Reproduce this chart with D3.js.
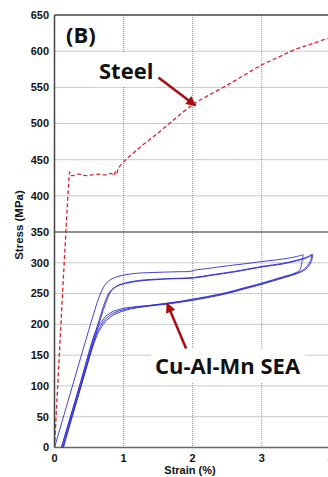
<!DOCTYPE html>
<html>
<head>
<meta charset="utf-8">
<script src="https://cdn.jsdelivr.net/npm/d3@7"></script>
<style>
  html, body { margin: 0; padding: 0; background: #fff; overflow: hidden; }
  svg { display: block; }
  .tick-label { font-family: "Liberation Sans", Arial, sans-serif; font-weight: bold; font-size: 11px; fill: #111; }
  .axis-title { font-family: "Liberation Sans", Arial, sans-serif; font-weight: bold; fill: #111; }
  .note { font-family: "Open Sans", "Noto Sans", sans-serif; font-weight: bold; font-size: 22px; fill: #111; }
</style>
</head>
<body>
<div id="chart"></div>
<script>
// data (strain in %, stress in MPa)
var xTicks = [0, 1, 2, 3, 4];
var yTicks = [0, 50, 100, 150, 200, 250, 300, 350, 400, 450, 500, 550, 600, 650];

var steel = [[0,0],[0.215,430],[0.22,433],[0.24,428],[0.35,430],[0.45,428],[0.55,429],[0.65,430],
  [0.75,429],[0.82,431],[0.86,428],[0.88,433],[0.9,430],[0.92,437],[1.0,447],[1.25,468],[1.5,487],
  [1.75,507],[2.0,526],[2.25,540],[2.5,553],[2.75,567],[3.0,581],[3.25,592],[3.5,603],[3.75,611],[4.0,619]];

var load1 = [[0,0],[0.2,77],[0.4,154],[0.55,211],[0.62,236],[0.68,254],[0.75,267],[0.85,275],[1.0,280],
  [1.2,283],[1.5,284.5],[1.8,285.5],[1.97,286],[2.03,288],[2.2,290.5],[2.5,295],[2.8,299],[3.0,302],
  [3.3,306],[3.5,310],[3.6,313]];
var unload1 = [[3.6,313],[3.58,300],[3.55,288],[3.45,282],[3.3,277],[3.0,267],[2.7,258],[2.5,252],
  [2.2,245],[2.0,241],[1.8,237],[1.6,234],[1.4,231],[1.2,229],[1.0,226],[0.85,221],[0.75,214],
  [0.68,204],[0.6,190],[0.35,95],[0.1,0]];
var load2 = [[0.1,0],[0.35,95],[0.6,190],[0.66,212],[0.72,233],[0.8,253],[0.9,262],[1.0,266.5],[1.2,271],
  [1.4,273],[1.7,274.5],[2.0,276],[2.3,281],[2.6,286],[3.0,294],[3.3,299],[3.5,304],[3.65,309],[3.73,314]];
var unload2 = [[3.73,314],[3.7,302],[3.62,290],[3.5,283],[3.3,276],[3.0,266],[2.7,257],[2.5,251],
  [2.2,244],[2.0,240],[1.8,236.5],[1.6,233.5],[1.4,231],[1.2,228],[1.0,224],[0.85,218],[0.75,210],
  [0.67,198],[0.6,182],[0.35,88],[0.12,0]];
var load3 = [[0.12,0],[0.36,92],[0.62,192],[0.68,214],[0.74,234],[0.82,254],[0.92,263],[1.0,265.5],
  [1.2,270],[1.4,272],[1.7,274],[2.0,275],[2.3,280],[2.6,285],[3.0,293],[3.3,298],[3.5,303],[3.65,308],[3.74,313]];
var unload3 = [[3.74,313],[3.71,300],[3.63,289],[3.5,282],[3.3,275],[3.0,265],[2.7,256],[2.5,250],
  [2.2,243],[2.0,239],[1.8,235.5],[1.6,232.5],[1.4,230],[1.2,227],[1.0,222],[0.85,215],[0.75,206],
  [0.67,194],[0.6,178],[0.35,86],[0.13,0]];
var seaCurves = [load1, unload1, load2, unload2, load3, unload3];

var steelPoint = [2.04, 525];
var seaPoint = [1.63, 234];

//Settings
var width = 328;
var height = 477;
var red = "#d8222c";
var blue = "#2b2bd2";
var darkRed = "#a80d12";

var svg = d3.select("#chart").append("svg")
  .attr("width", width)
  .attr("height", height);

var defs = svg.append("defs");
defs.append("clipPath").attr("id", "plotClip")
  .append("rect").attr("x", 55).attr("y", 14).attr("width", width - 55).attr("height", 435);
defs.append("marker")
  .attr("id", "head")
  .attr("viewBox", "0 0 10 10")
  .attr("refX", 9).attr("refY", 5)
  .attr("markerWidth", 4.2).attr("markerHeight", 4)
  .attr("markerUnits", "strokeWidth")
  .attr("orient", "auto")
  .append("path").attr("d", "M0,0L10,5L0,10Z").attr("fill", darkRed);

// scales: the y axis is broken at 350 MPa, upper part is stretched
var x = d3.scaleLinear().domain([0, 4]).range([54.5, 330.8]);
var y = d3.scaleLinear().domain([0, 350, 650]).range([447.5, 232, 15]);

// grid
var grid = svg.append("g");
grid.selectAll("line.h")
  .data(yTicks.filter(function(d) { return d != 0 && d != 350 && d != 650; }))
  .enter().append("line")
  .attr("x1", x(0)).attr("x2", width)
  .attr("y1", function(d) { return y(d); }).attr("y2", function(d) { return y(d); })
  .attr("stroke", "#777").attr("stroke-width", 0.8).attr("stroke-dasharray", "1,1");
grid.selectAll("line.v")
  .data(xTicks.filter(function(d) { return d != 0; }))
  .enter().append("line")
  .attr("x1", function(d) { return x(d); }).attr("x2", function(d) { return x(d); })
  .attr("y1", y(650)).attr("y2", y(0))
  .attr("stroke", "#777").attr("stroke-width", 0.8).attr("stroke-dasharray", "1,1");

// labels with white backgrounds
function note(text, px, py) {
  var g = svg.append("g");
  var t = g.append("text").attr("class", "note").attr("x", px).attr("y", py).text(text);
  return { g: g, t: t };
}
var bLabel = note("(B)", 66, 43);
var steelLabel = note("Steel", 99, 79);
var seaLabel = note("Cu-Al-Mn SEA", 155, 374);
[steelLabel, seaLabel].forEach(function(l) {
  var bb = l.t.node().getBBox();
  l.g.insert("rect", "text")
    .attr("x", bb.x - 4).attr("y", bb.y - 2)
    .attr("width", bb.width + 8).attr("height", bb.height + 4)
    .attr("fill", "#fff");
});

// axis frame lines
svg.append("line").attr("x1", x(0)).attr("x2", width).attr("y1", y(350)).attr("y2", y(350))
  .attr("stroke", "#222").attr("stroke-width", 1);
svg.append("line").attr("x1", x(0)).attr("x2", width).attr("y1", y(650)).attr("y2", y(650))
  .attr("stroke", "#444").attr("stroke-width", 1.5);
svg.append("line").attr("x1", x(0)).attr("x2", width).attr("y1", y(0)).attr("y2", y(0))
  .attr("stroke", "#666").attr("stroke-width", 1.5);
svg.append("line").attr("x1", x(0)).attr("x2", x(0)).attr("y1", y(650)).attr("y2", y(0))
  .attr("stroke", "#444").attr("stroke-width", 1.5);

// curves
var line = d3.line()
  .x(function(d) { return x(d[0]); })
  .y(function(d) { return y(d[1]); })
  .curve(d3.curveCatmullRom.alpha(0.5));

var plot = svg.append("g").attr("clip-path", "url(#plotClip)");
plot.selectAll("path.sea")
  .data(seaCurves)
  .enter().append("path")
  .attr("class", "sea")
  .attr("d", line)
  .attr("fill", "none")
  .attr("stroke", blue)
  .attr("stroke-width", 0.9);

plot.append("path")
  .attr("d", line(steel))
  .attr("fill", "none")
  .attr("stroke", red)
  .attr("stroke-width", 1.3)
  .attr("stroke-dasharray", "4,2.5");

// arrows
svg.append("line")
  .attr("x1", x(steelPoint[0]) - 37).attr("y1", y(steelPoint[1]) - 28)
  .attr("x2", x(steelPoint[0])).attr("y2", y(steelPoint[1]))
  .attr("stroke", darkRed).attr("stroke-width", 2.5)
  .attr("marker-end", "url(#head)");
svg.append("line")
  .attr("x1", x(seaPoint[0]) + 19).attr("y1", y(seaPoint[1]) + 45)
  .attr("x2", x(seaPoint[0])).attr("y2", y(seaPoint[1]))
  .attr("stroke", darkRed).attr("stroke-width", 2.5)
  .attr("marker-end", "url(#head)");

// tick labels
svg.append("g").selectAll("text")
  .data(yTicks)
  .enter().append("text")
  .attr("class", "tick-label")
  .attr("x", 49)
  .attr("y", function(d) { return y(d); })
  .attr("dy", "0.35em")
  .attr("text-anchor", "end")
  .text(function(d) { return d; });

svg.append("g").selectAll("text")
  .data(xTicks)
  .enter().append("text")
  .attr("class", "tick-label")
  .attr("x", function(d) { return x(d); })
  .attr("y", 462)
  .attr("text-anchor", "middle")
  .text(function(d) { return d; });

// axis titles
svg.append("text")
  .attr("class", "axis-title")
  .attr("transform", "translate(23,225) rotate(-90)")
  .attr("text-anchor", "middle")
  .style("font-size", "11.5px")
  .text("Stress (MPa)");
svg.append("text")
  .attr("class", "axis-title")
  .attr("x", 190).attr("y", 474)
  .attr("text-anchor", "middle")
  .style("font-size", "11px")
  .text("Strain (%)");
</script>
</body>
</html>
